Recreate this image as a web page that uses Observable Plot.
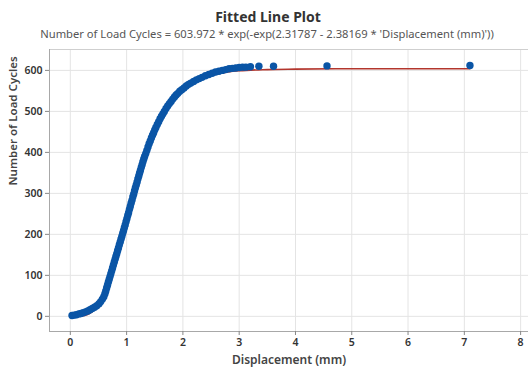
<!DOCTYPE html>
<html><head><meta charset="utf-8">
<script src="https://cdn.jsdelivr.net/npm/d3@7"></script>
<script src="https://cdn.jsdelivr.net/npm/@observablehq/plot@0.6"></script>
<style>
body{margin:0;background:#fff;font-family:"Noto Sans",sans-serif;}
#wrap{position:relative;width:528px;height:368px;overflow:hidden;background:#fff}
#title{position:absolute;left:0;top:8px;width:536px;text-align:center;font-size:14px;font-weight:700;color:#333;line-height:18px}
#sub{position:absolute;left:0;top:26px;width:534px;text-align:center;font-size:11.2px;color:#555;line-height:15px}
#chart{position:absolute;left:0;top:0}
</style></head><body>
<div id="wrap">
<div id="chart"></div>
<div id="title">Fitted Line Plot</div>
<div id="sub">Number of Load Cycles = 603.972 * exp(-exp(2.31787 - 2.38169 * 'Displacement (mm)'))</div>
</div>
<script>
const displacement = [0.03,0.07,0.11,0.15,0.19,0.23,0.27,0.31,0.35,0.39,0.43,0.47,0.51,0.54,0.57,0.595,0.615,0.63,0.645,0.66,0.675,0.69,0.705,0.72,0.735,0.75,0.765,0.78,0.795,0.81,0.825,0.84,0.855,0.87,0.885,0.90,0.915,0.93,0.945,0.96,0.975,0.99,1.005,1.02,1.035,1.05,1.065,1.08,1.095,1.11,1.125,1.14,1.155,1.17,1.185,1.20,1.215,1.23,1.245,1.26,1.275,1.29,1.305,1.32,1.34,1.36,1.38,1.40,1.42,1.44,1.46,1.48,1.50,1.52,1.545,1.57,1.595,1.62,1.645,1.67,1.70,1.73,1.76,1.79,1.82,1.85,1.88,1.91,1.945,1.98,2.02,2.06,2.10,2.14,2.19,2.24,2.29,2.34,2.40,2.46,2.52,2.58,2.64,2.70,2.76,2.82,2.88,2.94,3.00,3.06,3.12,3.20,3.35,3.61,4.56,7.10];
const loadCycles = [2,3,4,6,7,9,11,13,16,19,22,26,31,36,42,48,55,62,69,76,83,90,97,104,111,118,125,132,139,146,153,160,167,174,181,188,195,202,209,216,223,231,238,246,253,261,268,276,283,291,298,306,313,320,327,335,342,349,356,363,370,377,384,390,397,405,413,421,428,435,442,448,455,461,468,475,482,488,494,500,507,513,519,524,530,535,540,544,549,553,557,562,566,569,573,577,580,583,587,590,593,596,598,600,602,604,605,606,607,608,608,609,610,610,611,612];
// fitted line
const fitDisplacement = [0.03,0.2,0.4,0.6,0.8,1.0,1.2,1.4,1.6,1.8,2.0,2.2,2.4,2.6,2.8,3.0,3.5,4.0,5.0,6.0,7.1];
const fitCycles = [0,1,12,53,133,236,337,421,482,525,554,572,584,591,596,599,602,603,604,604,604];
const xTicks = [0,1,2,3,4,5,6,7,8];
const yTicks = [0,100,200,300,400,500,600];

const points = displacement.map((d,i)=>({x:d,y:loadCycles[i]}));
const fit = fitDisplacement.map((d,i)=>({x:d,y:fitCycles[i]}));
const xMin=-0.37, xMax=8.14, yMin=-37, yMax=651;

const plot = Plot.plot({
  width:528, height:368,
  marginTop:49, marginBottom:37, marginLeft:49, marginRight:0,
  style:{fontFamily:"'Noto Sans', sans-serif", fontSize:"10.5px", color:"#333", background:"transparent"},
  x:{domain:[xMin,xMax]},
  y:{domain:[yMin,yMax]},
  marks:[
    Plot.gridX(xTicks,{stroke:"#e4e4e4",strokeOpacity:1}),
    Plot.gridY(yTicks,{stroke:"#e4e4e4",strokeOpacity:1}),
    Plot.ruleY([yMax],{stroke:"#cfcfcf"}),
    Plot.ruleX([xMin],{stroke:"#a8a8a8"}),
    Plot.ruleY([yMin],{stroke:"#a8a8a8"}),
    Plot.axisX(xTicks,{tickSize:4,tickPadding:3,label:null,fontWeight:600,stroke:"#888",fill:"#333"}),
    Plot.axisY(yTicks,{tickSize:4,tickPadding:3,label:null,fontWeight:600,stroke:"#888",fill:"#333"}),
    Plot.line(fit,{x:"x",y:"y",stroke:"#b3362d",strokeWidth:1.6,curve:"monotone-x"}),
    Plot.dot(points,{x:"x",y:"y",r:3.7,fill:"#0a55a6",stroke:null}),
    Plot.text(["Displacement (mm)"],{frameAnchor:"bottom",dy:32,fontSize:12,fontWeight:600,fill:"#444"}),
    Plot.text(["Number of Load Cycles"],{frameAnchor:"left",rotate:-90,dx:-36,dy:-5,fontSize:11.5,fontWeight:600,fill:"#444"})
  ]
});
document.getElementById("chart").appendChild(plot);
</script>
</body></html>
